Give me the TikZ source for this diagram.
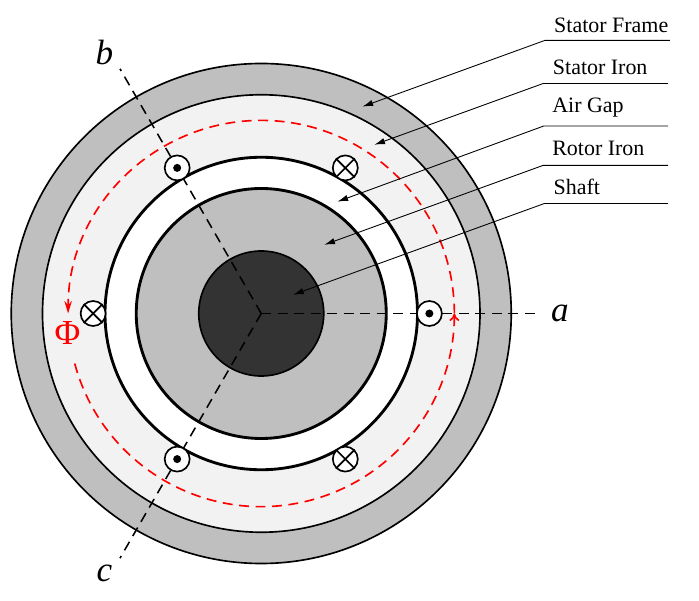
\documentclass[tikz,border=0pt]{standalone}
\usepackage{fontspec}
\setmainfont{Liberation Serif}
\usepackage{tikz}
\usetikzlibrary{calc}
\usetikzlibrary{arrows.meta}
\tikzset{
	ring/.style={draw=black,line width=0.75pt},
	ringthick/.style={draw=black,line width=1.3pt},
	axisline/.style={draw=black,dash pattern=on 4.5pt off 3pt,line width=0.7pt},
	fluxline/.style={draw=red,dash pattern=on 4.5pt off 3pt,line width=0.75pt},
	leader/.style={draw=black,line width=0.4pt,-{Latex[length=1.7mm,width=1mm]}},
	coil/.style={circle,draw=black,fill=white,line width=0.75pt,minimum size=0.4cm,inner sep=0pt},
	partname/.style={inner sep=0pt,anchor=base west},
	axisname/.style={font=\fontsize{16}{16}\selectfont\itshape,inner sep=0pt}
}
\begin{document}
\begin{tikzpicture}
	\useasboundingbox (-4.18,-4.60) rectangle (7.004,5.016);
	% rings
	\filldraw[ring,fill=black!25] (0,0) circle (4);
	\filldraw[ring,fill=black!5] (0,0) circle (3.5);
	\filldraw[ringthick,fill=white] (0,0) circle (2.5);
	\filldraw[ringthick,fill=black!25] (0,0) circle (2);
	\filldraw[ring,fill=black!80] (0,0) circle (1);
	\coordinate (center) at (0,0);
	% axes
	\node[axisname] (a) at (4.78,0) {a};
	\node[axisname] (b) at (-2.51,4.18) {b};
	\node[axisname] (c) at (-2.51,-4.16) {c};
	\coordinate (a end) at (0:4.46);
	\coordinate (b end) at (120:4.52);
	\coordinate (c end) at (240:4.52);
	\draw[axisline] (center) -- (a end);
	\draw[axisline] (center) -- (b end);
	\draw[axisline] (center) -- (c end);
	% flux
	\draw[fluxline,-{To[length=1.2mm,width=1.6mm]}] (195:3.09) arc (195:360:3.09);
	\draw[fluxline,-{Stealth[length=2mm,width=1.2mm]}] (0:3.09) arc (0:180:3.09);
	\node[red,font=\fontsize{16}{16}\selectfont,inner sep=0pt] (phi) at (-3.10,-0.31) {Φ};
	% coils
	\foreach \ang/\nm in {0/ca,120/cb,240/cc}{
		\node[coil] (\nm) at (\ang:2.69) {};
		\fill[black] (\nm) circle (0.064);
	}
	\foreach \ang/\nm in {60/da,180/db,300/dc}{
		\node[coil] (\nm) at (\ang:2.69) {};
		\draw[line width=0.75pt] (\nm.north west) -- (\nm.south east);
		\draw[line width=0.75pt] (\nm.north east) -- (\nm.south west);
	}
	% leaders
	\node[partname] (frame) at (4.68,4.5) {Stator Frame};
	\node[partname] (iron) at (4.66,3.82) {Stator Iron};
	\node[partname] (gap) at (4.65,3.22) {Air Gap};
	\node[partname] (rotor) at (4.65,2.53) {Rotor Iron};
	\node[partname] (shaft) at (4.67,1.90) {Shaft};
	\foreach \nm/\xa/\xb/\yy/\xt/\yt in {
		frame/4.54/6.54/4.37/1.62/3.31,
		iron/4.51/6.51/3.68/1.81/2.70,
		gap/4.52/6.51/3.0/1.22/1.79,
		rotor/4.51/6.51/2.37/1.01/1.10,
		shaft/4.53/6.51/1.76/0.51/0.30}{
		\coordinate (\nm a) at (\xb,\yy);
		\coordinate (\nm b) at (\xa,\yy);
		\coordinate (\nm c) at (\xt,\yt);
		\draw[leader] (\nm a) -- (\nm b) -- (\nm c);
	}
\end{tikzpicture}
\end{document}
